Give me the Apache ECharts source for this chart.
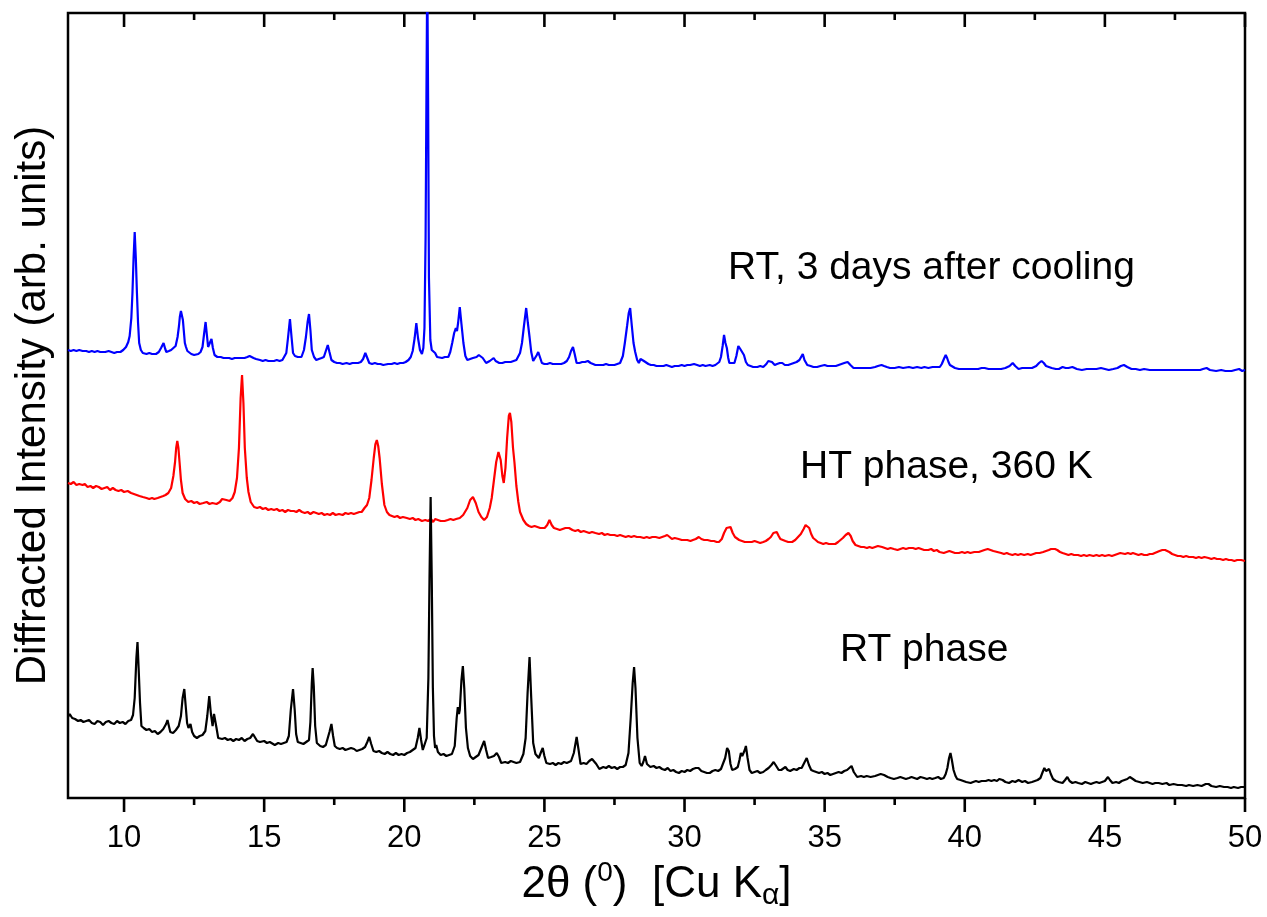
<!DOCTYPE html>
<html>
<head>
<meta charset="utf-8">
<title>XRD patterns</title>
<script src="https://cdn.jsdelivr.net/npm/echarts@6/dist/echarts.min.js"></script>
<style>
  html, body { margin: 0; padding: 0; background: #ffffff; }
  #chart { width: 1267px; height: 917px; }
</style>
</head>
<body>
<div id="chart"></div>
<script>
// Powder patterns, [2theta (deg), intensity (arb. units, offset per trace)]
const rtPhase = [
  [8.00,81],[8.06,84],[8.15,80],[8.25,79],[8.36,77],[8.45,78],[8.55,76],[8.65,77],[8.75,78],[8.85,75],[8.95,74],[9.05,77],[9.15,76],[9.25,73],[9.35,76],[9.45,77],[9.55,75],[9.65,74],[9.75,77],[9.85,75],[9.95,76],[10.05,74],[10.15,77],[10.25,78],[10.32,83],[10.38,100],[10.44,140],[10.48,156],[10.52,130],[10.57,95],[10.62,72],[10.7,70],[10.8,68],[10.9,69],[11.0,66],[11.1,67],[11.2,64],[11.3,66],[11.4,69],[11.5,74],[11.55,78],[11.6,72],[11.65,66],[11.75,65],[11.85,68],[11.95,72],[12.03,82],[12.09,100],[12.15,109],[12.2,92],[12.25,75],[12.3,70],[12.37,74],[12.43,66],[12.5,62],[12.6,60],[12.7,62],[12.8,63],[12.9,67],[12.97,82],[13.04,102],[13.1,84],[13.16,72],[13.21,84],[13.25,83],[13.3,70],[13.36,60],[13.5,59],[13.6,60],[13.7,58],[13.8,59],[13.9,57],[14.0,59],[14.1,58],[14.2,60],[14.3,57],[14.4,59],[14.5,60],[14.6,64],[14.67,62],[14.75,57],[14.85,56],[15.0,57],[15.1,55],[15.2,56],[15.38,53],[15.5,55],[15.6,54],[15.7,55],[15.8,56],[15.88,62],[15.95,88],[16.03,109],[16.09,88],[16.14,64],[16.2,56],[16.3,55],[16.4,54],[16.5,56],[16.6,58],[16.65,76],[16.7,115],[16.73,130],[16.77,112],[16.82,72],[16.88,55],[17.0,52],[17.1,51],[17.2,53],[17.27,55],[17.33,66],[17.4,74],[17.46,62],[17.52,52],[17.6,50],[17.7,49],[17.8,50],[17.9,48],[18.0,49],[18.1,50],[18.21,49],[18.3,47],[18.4,48],[18.5,49],[18.6,51],[18.68,56],[18.75,61],[18.82,54],[18.9,47],[19.0,46],[19.1,47],[19.2,45],[19.3,44],[19.4,46],[19.5,44],[19.6,43],[19.7,45],[19.8,43],[19.9,44],[20.0,43],[20.1,45],[20.2,46],[20.3,48],[20.4,50],[20.48,60],[20.54,70],[20.6,58],[20.66,48],[20.72,46],[20.8,60],[20.86,120],[20.9,220],[20.94,301],[20.98,220],[21.02,110],[21.06,62],[21.1,50],[21.14,53],[21.2,46],[21.3,43],[21.4,44],[21.5,42],[21.6,43],[21.7,44],[21.8,52],[21.87,80],[21.91,91],[21.95,84],[21.98,88],[22.04,118],[22.09,132],[22.14,110],[22.2,70],[22.27,50],[22.35,42],[22.45,39],[22.55,41],[22.65,43],[22.75,50],[22.85,57],[22.92,48],[22.99,40],[23.1,41],[23.2,42],[23.3,45],[23.38,41],[23.46,35],[23.6,36],[23.7,35],[23.8,37],[23.9,36],[24.0,35],[24.13,36],[24.25,44],[24.33,60],[24.4,105],[24.47,141],[24.53,100],[24.6,55],[24.68,44],[24.8,40],[24.88,46],[24.94,50],[25.0,42],[25.07,35],[25.2,34],[25.3,35],[25.4,33],[25.5,35],[25.6,34],[25.7,36],[25.8,35],[25.95,37],[26.05,45],[26.15,61],[26.22,48],[26.29,34],[26.4,35],[26.5,34],[26.6,37],[26.7,39],[26.76,40],[26.85,34],[26.96,29],[27.1,31],[27.2,30],[27.3,32],[27.4,30],[27.5,31],[27.6,29],[27.7,31],[27.8,31],[27.9,33],[28.0,45],[28.08,80],[28.15,115],[28.2,131],[28.25,110],[28.32,60],[28.4,35],[28.47,32],[28.53,36],[28.59,42],[28.66,34],[28.78,31],[28.9,32],[29.0,30],[29.1,31],[29.2,29],[29.3,28],[29.4,30],[29.5,27],[29.6,28],[29.7,26],[29.8,25],[29.9,27],[30.0,26],[30.1,28],[30.2,27],[30.3,29],[30.4,30],[30.5,30],[30.6,27],[30.7,26],[30.8,25],[30.9,25],[31.0,27],[31.1,28],[31.2,27],[31.3,29],[31.37,31],[31.45,40],[31.52,50],[31.58,47],[31.64,34],[31.7,28],[31.8,29],[31.9,31],[31.96,38],[32.01,45],[32.06,42],[32.1,41],[32.15,48],[32.19,52],[32.25,40],[32.32,28],[32.4,25],[32.5,26],[32.6,27],[32.7,25],[32.81,26],[32.9,28],[33.0,30],[33.1,33],[33.18,36],[33.25,33],[33.36,28],[33.45,28],[33.52,30],[33.6,31],[33.68,28],[33.77,27],[33.9,29],[34.0,28],[34.1,30],[34.18,30],[34.27,35],[34.36,40],[34.44,33],[34.52,28],[34.6,27],[34.7,26],[34.8,25],[34.9,26],[35.0,24],[35.1,25],[35.2,23],[35.3,24],[35.4,25],[35.5,26],[35.6,25],[35.7,27],[35.8,28],[35.88,30],[35.96,32],[36.04,26],[36.16,21],[36.3,22],[36.4,21],[36.5,22],[36.64,21],[36.8,22],[36.9,23],[37.0,24],[37.12,23],[37.25,21],[37.35,20],[37.47,19],[37.6,20],[37.7,21],[37.8,20],[37.9,19],[38.01,20],[38.1,21],[38.2,20],[38.3,19],[38.42,21],[38.55,20],[38.65,19],[38.75,20],[38.84,19],[38.95,20],[39.05,21],[39.15,19],[39.25,20],[39.32,24],[39.38,30],[39.44,40],[39.49,45],[39.54,38],[39.6,28],[39.67,22],[39.73,19],[39.85,18],[39.95,17],[40.05,16],[40.21,15],[40.3,16],[40.4,17],[40.5,16],[40.6,17],[40.75,17],[40.85,18],[40.95,17],[41.05,18],[41.15,17],[41.23,19],[41.35,18],[41.45,16],[41.58,15],[41.7,17],[41.8,16],[41.92,18],[42.05,16],[42.15,17],[42.26,15],[42.4,16],[42.5,17],[42.6,18],[42.7,20],[42.78,26],[42.84,30],[42.9,27],[42.95,28],[43.01,29],[43.07,24],[43.15,19],[43.25,17],[43.35,16],[43.49,15],[43.58,18],[43.66,21],[43.74,17],[43.84,15],[43.95,16],[44.05,15],[44.18,14],[44.3,16],[44.4,15],[44.5,14],[44.59,15],[44.7,16],[44.8,15],[44.9,16],[45.0,17],[45.11,21],[45.18,18],[45.27,15],[45.4,16],[45.5,15],[45.6,17],[45.7,18],[45.8,19],[45.89,21],[46.0,19],[46.1,17],[46.23,16],[46.35,15],[46.5,16],[46.6,15],[46.7,14],[46.8,15],[46.92,15],[47.05,14],[47.2,15],[47.3,13],[47.45,14],[47.6,13],[47.75,13],[47.9,12],[48.0,13],[48.15,12],[48.3,13],[48.45,12],[48.6,14],[48.7,14],[48.8,12],[48.97,11],[49.1,12],[49.25,11],[49.38,11],[49.5,10],[49.6,11],[49.75,10],[49.86,11],[50.0,11]
];

const htPhase = [
  [8.0,315],[8.1,314],[8.2,316],[8.3,313],[8.4,314],[8.52,313],[8.6,314],[8.7,311],[8.8,312],[8.9,310],[9.0,312],[9.1,311],[9.2,309],[9.3,310],[9.4,311],[9.5,308],[9.6,310],[9.7,308],[9.8,307],[9.9,308],[10.0,306],[10.13,307],[10.25,305],[10.35,304],[10.45,303],[10.55,302],[10.67,301],[10.8,300],[10.9,299],[11.0,300],[11.08,299],[11.2,300],[11.3,301],[11.4,302],[11.48,303],[11.58,305],[11.68,310],[11.76,322],[11.82,336],[11.86,350],[11.9,357],[11.94,350],[11.98,336],[12.03,318],[12.09,305],[12.18,299],[12.29,296],[12.4,297],[12.5,295],[12.6,296],[12.7,294],[12.83,295],[12.95,296],[13.05,294],[13.15,295],[13.3,294],[13.42,296],[13.5,299],[13.57,300],[13.65,298],[13.77,297],[13.87,300],[13.95,306],[14.03,320],[14.1,350],[14.16,400],[14.21,423],[14.26,395],[14.31,350],[14.38,320],[14.44,306],[14.52,296],[14.64,291],[14.75,290],[14.85,291],[14.95,289],[15.05,290],[15.15,288],[15.25,289],[15.35,288],[15.45,289],[15.55,287],[15.65,288],[15.75,286],[15.85,288],[15.95,287],[16.06,287],[16.15,286],[16.25,288],[16.35,286],[16.45,285],[16.55,286],[16.65,284],[16.76,286],[16.86,285],[16.95,284],[17.05,285],[17.15,283],[17.25,284],[17.35,283],[17.45,285],[17.55,283],[17.67,284],[17.8,283],[17.9,285],[18.0,284],[18.1,285],[18.2,284],[18.3,285],[18.4,286],[18.48,286],[18.58,290],[18.67,293],[18.75,300],[18.83,318],[18.91,340],[18.97,354],[19.02,358],[19.07,352],[19.12,340],[19.2,314],[19.29,293],[19.38,286],[19.47,283],[19.56,282],[19.65,281],[19.75,282],[19.85,280],[19.95,281],[20.09,280],[20.2,279],[20.3,280],[20.4,278],[20.5,279],[20.63,277],[20.75,278],[20.85,277],[20.95,279],[21.03,276],[21.1,279],[21.2,278],[21.3,277],[21.44,277],[21.55,278],[21.65,279],[21.75,278],[21.85,279],[21.98,280],[22.1,283],[22.25,290],[22.35,298],[22.45,301],[22.55,295],[22.65,286],[22.75,281],[22.85,278],[22.95,281],[23.05,290],[23.12,300],[23.2,318],[23.28,336],[23.36,346],[23.44,338],[23.5,322],[23.55,315],[23.61,330],[23.67,360],[23.73,382],[23.77,385],[23.82,376],[23.88,350],[23.93,336],[24.0,312],[24.07,296],[24.13,286],[24.25,278],[24.35,274],[24.45,272],[24.54,271],[24.65,272],[24.75,271],[24.85,270],[25.01,270],[25.1,273],[25.18,278],[25.26,273],[25.34,270],[25.45,269],[25.55,268],[25.65,269],[25.75,270],[25.88,270],[26.0,268],[26.1,267],[26.2,268],[26.3,266],[26.4,267],[26.5,266],[26.6,265],[26.7,266],[26.82,265],[26.95,264],[27.05,265],[27.15,263],[27.25,264],[27.35,263],[27.5,263],[27.6,262],[27.7,263],[27.8,262],[27.9,261],[28.0,262],[28.1,261],[28.2,262],[28.3,261],[28.42,261],[28.55,260],[28.65,261],[28.75,260],[28.85,261],[28.97,261],[29.1,260],[29.2,261],[29.3,262],[29.38,263],[29.47,261],[29.55,259],[29.65,260],[29.79,259],[29.9,258],[30.0,258],[30.1,258],[30.21,257],[30.3,258],[30.4,259],[30.51,261],[30.6,259],[30.7,258],[30.82,258],[30.95,257],[31.05,257],[31.15,256],[31.23,256],[31.33,259],[31.41,265],[31.5,270],[31.57,272],[31.64,271],[31.72,265],[31.8,261],[31.85,260],[31.95,258],[32.05,257],[32.15,256],[32.26,256],[32.4,256],[32.5,257],[32.6,256],[32.7,255],[32.81,256],[32.9,257],[33.0,259],[33.08,261],[33.17,265],[33.24,267],[33.29,266],[33.36,262],[33.42,259],[33.49,258],[33.6,257],[33.7,256],[33.84,256],[33.95,258],[34.05,261],[34.15,264],[34.25,269],[34.32,273],[34.38,275],[34.45,270],[34.52,264],[34.59,260],[34.68,258],[34.76,256],[34.86,255],[34.95,254],[35.05,255],[35.15,254],[35.27,254],[35.38,254],[35.48,256],[35.55,257],[35.65,260],[35.75,263],[35.85,265],[35.93,262],[36.0,257],[36.1,253],[36.2,252],[36.3,251],[36.4,251],[36.51,250],[36.6,251],[36.7,250],[36.8,251],[36.9,252],[37.05,251],[37.15,250],[37.25,249],[37.35,250],[37.47,249],[37.6,248],[37.7,249],[37.8,250],[37.9,249],[38.01,250],[38.15,250],[38.25,249],[38.35,250],[38.45,249],[38.55,248],[38.7,248],[38.8,249],[38.9,247],[39.0,248],[39.1,246],[39.25,245],[39.35,246],[39.45,247],[39.55,246],[39.65,245],[39.79,245],[39.9,246],[40.0,245],[40.1,246],[40.2,245],[40.34,246],[40.5,246],[40.6,247],[40.7,248],[40.82,249],[40.92,248],[41.02,247],[41.16,246],[41.3,245],[41.4,244],[41.5,245],[41.58,244],[41.7,243],[41.8,244],[41.9,243],[42.0,244],[42.12,243],[42.25,244],[42.35,243],[42.45,244],[42.55,245],[42.67,245],[42.8,246],[42.9,247],[43.0,248],[43.08,249],[43.15,250],[43.22,249],[43.3,248],[43.4,246],[43.49,245],[43.6,244],[43.7,243],[43.8,244],[43.9,243],[44.04,243],[44.15,242],[44.25,243],[44.35,242],[44.45,243],[44.59,242],[44.7,243],[44.8,242],[44.9,243],[45.0,242],[45.14,243],[45.25,242],[45.35,243],[45.45,244],[45.55,245],[45.62,245],[45.72,244],[45.82,245],[45.92,244],[46.0,245],[46.1,244],[46.2,243],[46.3,244],[46.4,243],[46.51,243],[46.6,244],[46.7,244],[46.78,245],[46.85,246],[46.95,247],[47.05,248],[47.15,248],[47.22,248],[47.3,246],[47.4,244],[47.5,243],[47.6,242],[47.7,242],[47.8,241],[47.9,242],[48.0,241],[48.15,241],[48.25,240],[48.35,241],[48.45,240],[48.55,241],[48.7,240],[48.8,239],[48.9,240],[49.0,239],[49.11,239],[49.22,238],[49.32,239],[49.42,238],[49.52,238],[49.62,237],[49.72,238],[49.86,238],[50.0,237]
];

const rtAfterCooling = [
  [8.0,448],[8.1,447],[8.2,448],[8.3,447],[8.4,448],[8.52,447],[8.65,447],[8.75,446],[8.85,447],[8.95,446],[9.05,447],[9.15,446],[9.25,446],[9.33,446],[9.45,447],[9.55,446],[9.65,445],[9.75,446],[9.87,446],[9.97,448],[10.07,451],[10.15,456],[10.2,462],[10.26,480],[10.3,505],[10.34,540],[10.38,566],[10.42,540],[10.46,505],[10.5,475],[10.54,455],[10.6,448],[10.67,445],[10.8,444],[10.9,445],[11.0,444],[11.14,444],[11.24,446],[11.32,450],[11.41,455],[11.47,449],[11.51,446],[11.6,447],[11.68,448],[11.75,448],[11.84,452],[11.91,461],[11.96,472],[11.99,481],[12.03,487],[12.06,489],[12.1,478],[12.13,468],[12.17,455],[12.21,451],[12.26,447],[12.31,445],[12.4,444],[12.5,443],[12.56,443],[12.65,444],[12.73,446],[12.8,451],[12.86,465],[12.91,476],[12.96,462],[13.0,451],[13.06,452],[13.12,459],[13.17,450],[13.23,443],[13.33,441],[13.45,441],[13.55,440],[13.63,440],[13.75,440],[13.85,439],[13.95,440],[14.05,440],[14.17,440],[14.3,440],[14.4,441],[14.48,442],[14.54,442],[14.62,440],[14.71,439],[14.85,438],[14.95,437],[15.05,438],[15.15,437],[15.25,437],[15.35,437],[15.45,438],[15.55,437],[15.65,438],[15.72,440],[15.79,445],[15.85,460],[15.92,479],[15.98,460],[16.03,445],[16.1,442],[16.2,441],[16.33,441],[16.42,448],[16.49,461],[16.55,476],[16.6,484],[16.65,468],[16.7,448],[16.78,441],[16.86,438],[16.95,439],[17.05,440],[17.13,441],[17.2,447],[17.27,453],[17.33,446],[17.4,438],[17.5,436],[17.6,435],[17.7,435],[17.8,434],[17.94,435],[18.05,434],[18.15,435],[18.25,435],[18.35,435],[18.45,436],[18.53,439],[18.61,445],[18.68,440],[18.75,435],[18.85,434],[18.95,435],[19.05,434],[19.15,434],[19.25,433],[19.42,434],[19.55,434],[19.65,435],[19.75,434],[19.85,435],[19.96,435],[20.05,436],[20.15,438],[20.23,441],[20.3,447],[20.37,460],[20.43,475],[20.49,460],[20.56,448],[20.63,444],[20.68,450],[20.72,470],[20.76,560],[20.79,700],[20.82,830],[20.85,700],[20.88,520],[20.93,458],[20.98,448],[21.04,446],[21.1,445],[21.17,441],[21.24,440],[21.35,440],[21.45,441],[21.57,441],[21.64,446],[21.71,455],[21.78,465],[21.84,470],[21.88,467],[21.92,475],[21.98,491],[22.04,474],[22.11,455],[22.18,442],[22.25,438],[22.35,439],[22.45,440],[22.58,441],[22.66,443],[22.73,445],[22.8,440],[22.92,435],[23.05,437],[23.12,439],[23.19,440],[23.26,437],[23.39,435],[23.5,435],[23.6,436],[23.7,436],[23.8,436],[23.9,437],[24.0,438],[24.07,440],[24.13,445],[24.2,455],[24.27,472],[24.35,490],[24.41,475],[24.47,461],[24.53,446],[24.6,437],[24.67,437],[24.73,443],[24.78,446],[24.84,441],[24.91,435],[25.0,434],[25.1,434],[25.2,435],[25.3,434],[25.48,434],[25.6,434],[25.7,435],[25.8,437],[25.88,441],[25.95,447],[26.02,451],[26.08,444],[26.15,435],[26.25,435],[26.35,436],[26.45,436],[26.55,437],[26.65,435],[26.82,433],[26.95,433],[27.1,433],[27.2,434],[27.3,433],[27.4,433],[27.5,433],[27.6,434],[27.7,435],[27.8,442],[27.87,455],[27.95,472],[28.01,485],[28.06,490],[28.12,472],[28.18,455],[28.24,446],[28.31,438],[28.37,435],[28.43,439],[28.48,441],[28.55,437],[28.62,435],[28.71,434],[28.8,433],[28.9,433],[29.0,432],[29.08,432],[29.25,432],[29.35,433],[29.45,432],[29.55,431],[29.65,432],[29.79,432],[29.9,433],[30.0,432],[30.1,433],[30.2,433],[30.34,434],[30.45,433],[30.55,432],[30.65,433],[30.75,432],[30.9,433],[31.0,432],[31.1,433],[31.16,433],[31.24,436],[31.3,441],[31.36,452],[31.41,463],[31.46,455],[31.51,450],[31.56,440],[31.6,435],[31.7,435],[31.78,435],[31.85,442],[31.92,452],[31.99,449],[32.05,451],[32.12,443],[32.19,436],[32.26,433],[32.33,432],[32.45,431],[32.6,431],[32.7,432],[32.81,431],[32.92,434],[32.99,437],[33.05,439],[33.12,436],[33.22,433],[33.3,434],[33.4,435],[33.49,435],[33.58,433],[33.7,433],[33.8,434],[33.9,435],[34.0,436],[34.1,438],[34.16,441],[34.22,444],[34.28,438],[34.38,433],[34.5,432],[34.6,431],[34.73,431],[34.85,432],[35.0,433],[35.1,432],[35.27,432],[35.4,432],[35.5,433],[35.6,434],[35.7,435],[35.82,436],[35.92,433],[36.03,430],[36.2,430],[36.35,430],[36.5,430],[36.64,430],[36.8,431],[36.9,432],[37.03,433],[37.12,432],[37.22,431],[37.33,430],[37.5,430],[37.65,431],[37.8,430],[38.01,431],[38.15,430],[38.3,431],[38.45,430],[38.56,431],[38.7,430],[38.85,431],[39.0,431],[39.11,431],[39.18,434],[39.22,436],[39.27,440],[39.32,443],[39.37,440],[39.42,436],[39.47,433],[39.52,432],[39.65,430],[39.79,429],[39.95,429],[40.1,429],[40.3,429],[40.48,429],[40.6,430],[40.71,430],[40.85,429],[41.0,429],[41.15,429],[41.3,429],[41.45,430],[41.6,432],[41.71,435],[41.8,432],[41.92,429],[42.05,430],[42.2,430],[42.4,430],[42.55,432],[42.65,435],[42.74,437],[42.82,435],[42.9,432],[42.95,431],[43.1,430],[43.25,429],[43.36,429],[43.49,431],[43.6,430],[43.7,430],[43.84,431],[44.0,429],[44.18,428],[44.35,429],[44.5,429],[44.7,429],[44.86,430],[45.0,429],[45.14,428],[45.3,429],[45.45,430],[45.57,432],[45.68,433],[45.8,431],[45.95,429],[46.1,429],[46.25,428],[46.4,429],[46.6,428],[46.75,428],[46.92,428],[47.1,428],[47.25,428],[47.45,428],[47.6,428],[47.8,428],[48.0,428],[48.2,428],[48.4,428],[48.5,429],[48.63,430],[48.75,428],[48.97,427],[49.15,428],[49.3,427],[49.52,427],[49.65,428],[49.79,429],[49.9,427],[50.0,428]
];

const majorTicks = [10, 15, 20, 25, 30, 35, 40, 45, 50];
const minorTicks = [12.5, 17.5, 22.5, 27.5, 32.5, 37.5, 42.5, 47.5];
const traceNames = ['RT phase', 'HT phase, 360 K', 'RT, 3 days after cooling'];
const yRange = [0, 785];

const FONT = 'Arial, "Liberation Sans", Helvetica, sans-serif';
const MAJOR_LEN = 14;
const MINOR_LEN = 7;
const TICK_W = 2.6;
const TRACE_W = 2.2;

// One entry per tick: [2theta, tick length in px]
const tickMarks = majorTicks.map(function (v) { return [v, MAJOR_LEN]; })
  .concat(minorTicks.map(function (v) { return [v, MINOR_LEN]; }));

// Tick marks on the bottom edge (pointing out) and top edge (pointing in)
function renderTick(params, api) {
  const v = api.value(0);
  const len = api.value(1);
  const pb = api.coord([v, yRange[0]]);
  const pt = api.coord([v, yRange[1]]);
  return {
    type: 'group',
    children: [
      { type: 'rect', shape: { x: pb[0] - TICK_W / 2, y: pb[1], width: TICK_W, height: len }, style: { fill: '#000000' } },
      { type: 'rect', shape: { x: pt[0] - TICK_W / 2, y: pt[1], width: TICK_W, height: len }, style: { fill: '#000000' } }
    ]
  };
}

const chart = echarts.init(document.getElementById('chart'), null, { renderer: 'canvas' });

const option = {
  animation: false,
  backgroundColor: '#ffffff',
  grid: {
    left: 68, right: 22, top: 13, bottom: 119,
    show: true, borderColor: '#000', borderWidth: 2.5, backgroundColor: 'transparent',
    containLabel: false, outerBoundsMode: 'none'
  },
  xAxis: [{
    type: 'value', position: 'bottom', min: 8, max: 50,
    axisLine: { show: false }, splitLine: { show: false }, axisTick: { show: false },
    axisLabel: {
      show: true, customValues: majorTicks, margin: 25,
      fontFamily: FONT, fontSize: 31, color: '#000'
    },
    name: '{a|2θ (}{s|0}{a|)  [Cu K}{b|α}{a|]}',
    nameLocation: 'middle', nameGap: 60,
    nameTextStyle: {
      fontFamily: FONT, fontSize: 44, color: '#000',
      rich: {
        a: { fontFamily: FONT, fontSize: 44, color: '#000', lineHeight: 52 },
        s: { fontFamily: FONT, fontSize: 28, color: '#000', lineHeight: 28, verticalAlign: 'top' },
        b: { fontFamily: FONT, fontSize: 30, color: '#000', lineHeight: 30, verticalAlign: 'bottom' }
      }
    }
  }],
  yAxis: [{
    type: 'value', min: yRange[0], max: yRange[1],
    axisLine: { show: false }, axisTick: { show: false },
    axisLabel: { show: false }, splitLine: { show: false },
    name: 'Diffracted Intensity (arb. units)',
    nameLocation: 'middle', nameGap: 14, nameRotate: 90,
    nameTextStyle: { fontFamily: FONT, fontSize: 42, color: '#000' }
  }],
  series: [
    { name: traceNames[1], type: 'line', data: htPhase, showSymbol: false, symbol: 'none',
      lineStyle: { color: '#ff0000', width: TRACE_W }, clip: true },
    { name: traceNames[0], type: 'line', data: rtPhase, showSymbol: false, symbol: 'none',
      lineStyle: { color: '#000000', width: TRACE_W }, clip: true },
    { name: traceNames[2], type: 'line', data: rtAfterCooling, showSymbol: false, symbol: 'none',
      lineStyle: { color: '#0000ff', width: TRACE_W }, clip: true },
    { name: 'ticks', type: 'custom', data: tickMarks, renderItem: renderTick,
      clip: false, silent: true, z: 10 }
  ],
  graphic: { elements: [
    { type: 'text', x: 728, y: 268, style: { text: traceNames[2], font: '39px ' + FONT, fill: '#000', textVerticalAlign: 'middle' } },
    { type: 'text', x: 800, y: 467, style: { text: traceNames[1], font: '39px ' + FONT, fill: '#000', textVerticalAlign: 'middle' } },
    { type: 'text', x: 840, y: 650, style: { text: traceNames[0], font: '39px ' + FONT, fill: '#000', textVerticalAlign: 'middle' } }
  ] }
};

chart.setOption(option);
</script>
</body>
</html>
